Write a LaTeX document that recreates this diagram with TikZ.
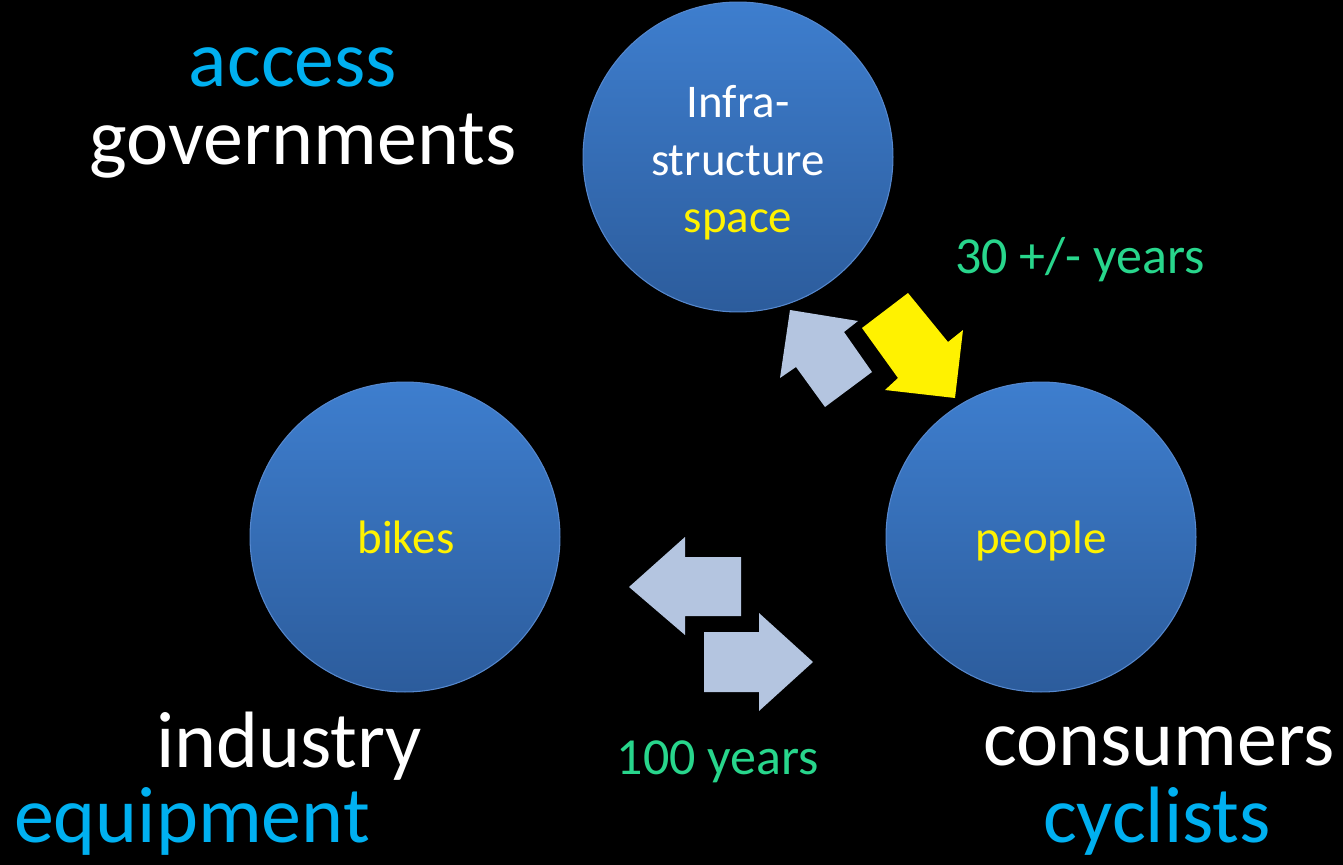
\documentclass[tikz,border=0pt]{standalone}
\usepackage{fontspec}
\setmainfont{Carlito}
\definecolor{balltop}{RGB}{62,126,206}
\definecolor{ballbot}{RGB}{44,92,156}
\definecolor{balledge}{RGB}{86,136,206}
\definecolor{wordcyan}{RGB}{0,176,240}
\definecolor{spangreen}{RGB}{40,214,140}
\definecolor{arrowblue}{RGB}{180,197,224}
\tikzset{
ball/.style={circle,minimum size=6.2cm,inner sep=0pt,top color=balltop,bottom color=ballbot,draw=balledge,line width=0.6pt},
bigword/.style={anchor=base,inner sep=0pt,font=\fontsize{45.5}{54}\selectfont},
ballword/.style={anchor=base,inner sep=0pt,font=\fontsize{26.7}{32}\selectfont},
spanword/.style={anchor=base,inner sep=0pt,text=spangreen,font=\fontsize{29.6}{36}\selectfont},
blockarrow/.style={fill=arrowblue}
}
\begin{document}
\begin{tikzpicture}[x=0.02cm,y=-0.02cm]
\fill[black] (0,0) rectangle (1343,865);
% the three circles
\foreach \name/\x/\y in {infra/738/157,bikes/405/537,people/1041/537} {
\node[ball] (\name) at (\x,\y) {};
}
\node[ballword,text=white] (infra1) at (738,118) {Infra-};
\node[ballword,text=white] (infra2) at (738,175) {structure};
\node[ballword,text=yellow] (infra3) at (738,233) {space};
\node[ballword,text=yellow] (bikestext) at (406,553) {bikes};
\node[ballword,text=yellow] (peopletext) at (1041,553) {people};
% words round them
\node[bigword,text=wordcyan] (access) at (293,87) {access};
\node[bigword,text=white] (govs) at (303,165) {governments};
\node[bigword,text=white] (industry) at (289,767) {industry};
\node[bigword,text=wordcyan] (equipment) at (192,842) {equipment};
\node[bigword,text=white] (consumers) at (1159,765) {consumers};
\node[bigword,text=wordcyan] (cyclists) at (1157,842) {cyclists};
\node[spanword] (span30) at (1080,273) {30 +/- years};
\node[spanword] (span100) at (718,774) {100 years};
% block arrows
\fill[blockarrow] (790,310) -- (858,321) -- (844,332) -- (872,372) -- (825,407) -- (796,367) -- (780,378) -- cycle;
\fill[yellow] (908,293) -- (948,342) -- (963,330) -- (955,398) -- (885,390) -- (898,378) -- (862,328) -- cycle;
\fill[blockarrow] (629,587) -- (685,537) -- (685,557) -- (741,557) -- (741,616) -- (685,616) -- (685,635) -- cycle;
\fill[blockarrow] (813,662) -- (759,613) -- (759,632) -- (704,632) -- (704,692) -- (759,692) -- (759,711) -- cycle;
\end{tikzpicture}
\end{document}
